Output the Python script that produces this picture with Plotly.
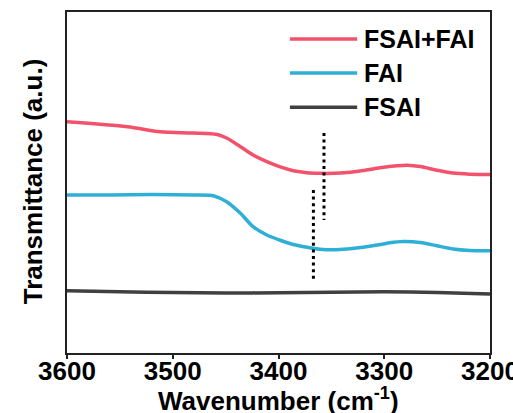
import plotly.graph_objects as go

# Wavenumber (cm^-1) and transmittance (a.u.)
wn_red = [3600, 3543, 3512, 3481, 3458, 3449, 3436, 3424, 3411, 3399, 3386, 3373,
          3361, 3348, 3335, 3320, 3304, 3288, 3278, 3266, 3250, 3235, 3219, 3200]
t_red = [2.313, 2.263, 2.213, 2.20, 2.185, 2.15, 2.063, 1.98, 1.913, 1.863, 1.823, 1.803,
         1.797, 1.797, 1.805, 1.825, 1.853, 1.873, 1.878, 1.865, 1.828, 1.799, 1.788, 1.785]

wn_blue = [3600, 3560, 3520, 3480, 3461, 3449, 3436, 3424, 3411, 3399, 3386, 3373,
           3361, 3348, 3335, 3320, 3305, 3295, 3282, 3266, 3250, 3235, 3219, 3200]
t_blue = [1.58, 1.58, 1.585, 1.58, 1.57, 1.513, 1.397, 1.263, 1.18, 1.13, 1.085, 1.057,
          1.038, 1.032, 1.04, 1.058, 1.082, 1.102, 1.115, 1.105, 1.072, 1.04, 1.025, 1.023]

wn_black = [3600, 3550, 3500, 3450, 3400, 3350, 3300, 3250, 3200]
t_black = [0.623, 0.613, 0.605, 0.60, 0.603, 0.608, 0.612, 0.605, 0.59]

# dotted marker lines
mark1_x = [3357, 3357]
mark1_y = [2.20, 1.33]
mark2_x = [3367, 3367]
mark2_y = [1.63, 0.73]

x_ticks = [3600, 3500, 3400, 3300, 3200]
legend_names = ["FSAI+FAI", "FAI", "FSAI"]
colors = ["#F2526B", "#30AFD6", "#404040"]
x_title = "Wavenumber (cm<sup>-1</sup>)"
y_title = "Transmittance (a.u.)"

FONT = "Liberation Sans, Arial, sans-serif"

fig = go.Figure()
for wn, t, name, c in zip([wn_red, wn_blue, wn_black], [t_red, t_blue, t_black],
                          legend_names, colors):
    fig.add_trace(go.Scatter(x=wn, y=t, mode="lines", name=name,
                             line=dict(color=c, width=3.5, shape="spline", smoothing=0.8),
                             showlegend=False))

for mx, my in [(mark1_x, mark1_y), (mark2_x, mark2_y)]:
    fig.add_trace(go.Scatter(x=mx, y=my, mode="lines", showlegend=False,
                             line=dict(color="black", width=3, dash="3px,3.6px")))

# manual legend
leg_y = [0.921, 0.821, 0.721]
for name, c, yy in zip(legend_names, colors, leg_y):
    fig.add_shape(type="line", xref="paper", yref="paper", x0=0.527, x1=0.686,
                  y0=yy, y1=yy, line=dict(color=c, width=3.5))
    fig.add_annotation(xref="paper", yref="paper", x=0.697, y=yy, text=name,
                       showarrow=False, xanchor="left", yanchor="middle",
                       font=dict(family=FONT, size=25, color="black", weight="bold"))

# axis titles
fig.add_annotation(xref="paper", yref="paper", x=0.5, y=-0.0825, text=x_title,
                   showarrow=False, xanchor="center", yanchor="top",
                   font=dict(family=FONT, size=26, color="black", weight="bold"))
fig.add_annotation(xref="paper", yref="paper", x=-0.080, y=0.504, text=y_title,
                   showarrow=False, xanchor="center", yanchor="middle", textangle=-90,
                   font=dict(family=FONT, size=26, color="black", weight="bold"))

fig.update_layout(
    width=513, height=413,
    margin=dict(l=67, r=23, t=12, b=60),
    paper_bgcolor="white", plot_bgcolor="white",
    font=dict(family=FONT, size=26, color="black", weight="bold"),
    showlegend=False,
)
fig.update_xaxes(range=[3600, 3200], tickvals=x_ticks, ticks="outside", ticklen=4,
                 tickwidth=2, tickcolor="#222", showline=True, linecolor="#222",
                 linewidth=2, mirror=True, showgrid=False, zeroline=False,
                 automargin=False, ticklabeloverflow="allow", ticklabelstandoff=-10,
                 tickfont=dict(family=FONT, size=26, weight="bold"))
fig.update_yaxes(range=[0, 3.41], showticklabels=False, ticks="", showline=True,
                 linecolor="#222", linewidth=2, mirror=True, showgrid=False,
                 zeroline=False, automargin=False)

fig.write_html("out.html")
